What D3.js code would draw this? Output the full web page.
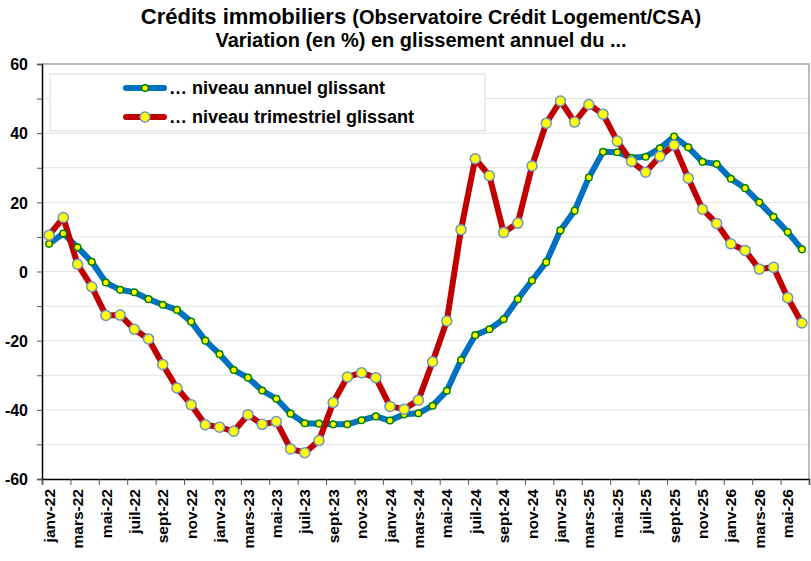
<!DOCTYPE html>
<html>
<head>
<meta charset="utf-8">
<script src="https://cdn.jsdelivr.net/npm/d3@7"></script>
<style>
  body { margin: 0; background: #fff; }
  svg { font-family: "Liberation Sans", Arial, sans-serif; }
</style>
</head>
<body>
<div id="chart"></div>
<script>
// mois (janv-22 .. juin-26)
var monthNames = ["janv", "févr", "mars", "avr", "mai", "juin", "juil", "août", "sept", "oct", "nov", "déc"];
var years = ["22", "23", "24", "25", "26"];
var months = [];
years.forEach(function(y) {
    monthNames.forEach(function(m) { months.push(m + "-" + y); });
});
months = months.slice(0, 54);

// glissement annuel du niveau annuel glissant
var annuel = [8.0, 11.0, 7.0, 2.8, -3.2, -5.3, -6.0, -8.0, -9.6, -11.1, -14.5, -20.0,
    -23.9, -28.5, -30.7, -34.4, -36.8, -41.1, -43.9, -44.0, -44.2, -44.2, -43.0, -41.9,
    -43.1, -41.3, -41.0, -38.8, -34.5, -25.6, -18.4, -16.7, -13.8, -8.0, -2.6, 2.7,
    11.9, 17.6, 27.2, 34.6, 34.5, 32.9, 33.2, 35.6, 39.0, 35.9, 31.7, 31.1,
    26.8, 24.1, 20.0, 15.8, 11.4, 6.4];

// glissement annuel du niveau trimestriel glissant
var trimestriel = [10.5, 15.6, 2.1, -4.4, -12.7, -12.6, -16.7, -19.5, -26.9, -33.7, -38.5, -44.3,
    -45.0, -46.2, -41.4, -44.2, -43.4, -51.3, -52.4, -48.9, -37.9, -30.5, -29.3, -30.7,
    -39.0, -39.8, -37.2, -26.1, -14.3, 12.1, 32.6, 27.7, 11.3, 14.0, 30.5, 42.9,
    49.3, 43.2, 48.3, 45.5, 37.7, 31.8, 28.7, 33.3, 36.6, 27.0, 18.0, 13.9,
    8.0, 6.1, 0.7, 1.2, -7.6, -14.9];

var yTicks = [-60, -40, -20, 0, 20, 40, 60];

var width = 811, height = 561;
var plot = { left: 42, right: 809, top: 64, bottom: 479 };

var svg = d3.select("#chart").append("svg")
    .attr("width", width)
    .attr("height", height);

var x = d3.scaleBand().domain(months).range([plot.left, plot.right]).padding(0);
var xIdx = d3.scaleLinear().domain([0, months.length]).range([plot.left, plot.right]);
var y = d3.scaleLinear().domain([-60, 60]).range([plot.bottom, plot.top]);

// titre
var title = svg.append("text")
    .attr("x", 421).attr("y", 24)
    .attr("text-anchor", "middle")
    .attr("font-weight", "bold");
title.append("tspan").attr("font-size", "22px").text("Crédits immobiliers ");
title.append("tspan").attr("font-size", "20px").text("(Observatoire Crédit Logement/CSA)");

svg.append("text")
    .attr("x", 421).attr("y", 47)
    .attr("text-anchor", "middle")
    .attr("font-weight", "bold")
    .attr("font-size", "20px")
    .text("Variation (en %) en glissement annuel du ...");

// grille
svg.append("g").selectAll("line")
    .data(d3.range(-50, 61, 10))
    .enter().append("line")
    .attr("x1", plot.left).attr("x2", plot.right)
    .attr("y1", d => y(d)).attr("y2", d => y(d))
    .attr("stroke", "#e3e3e3")
    .attr("stroke-width", 1);

// cadre
svg.append("path")
    .attr("d", `M${plot.left},${plot.top}H${plot.right}V${plot.bottom}`)
    .attr("fill", "none")
    .attr("stroke", "#a6a6a6")
    .attr("stroke-width", 1.5);

// axe Y
var yAxis = svg.append("g")
    .attr("transform", `translate(${plot.left},0)`)
    .call(d3.axisLeft(y).tickValues(d3.range(-60, 61, 10)).tickSize(5)
        .tickFormat(d => yTicks.indexOf(d) >= 0 ? d : ""));
yAxis.select(".domain").attr("stroke", "#000").attr("stroke-width", 1.5);
yAxis.selectAll(".tick line").attr("stroke", "#555");
yAxis.selectAll("text")
    .attr("font-size", "16px")
    .attr("font-weight", "bold")
    .attr("font-family", "Liberation Sans, Arial, sans-serif")
    .attr("fill", "#000")
    .attr("x", -14)
    .attr("dy", "0.36em");

// axe X : graduations
var xTickAxis = svg.append("g")
    .attr("transform", `translate(0,${plot.bottom})`)
    .call(d3.axisBottom(xIdx).tickValues(d3.range(0, months.length + 1, 2)).tickSize(6).tickFormat(""));
xTickAxis.select(".domain").attr("stroke", "#000").attr("stroke-width", 1.5);
xTickAxis.selectAll(".tick line").attr("stroke", "#555");

// axe X : libellés
var xLabelAxis = svg.append("g")
    .attr("transform", `translate(0,${plot.bottom})`)
    .call(d3.axisBottom(x).tickValues(months.filter((d, i) => i % 2 === 0)).tickSize(0));
xLabelAxis.select(".domain").remove();
xLabelAxis.selectAll("text")
    .attr("font-size", "15.5px")
    .attr("font-weight", "bold")
    .attr("font-family", "Liberation Sans, Arial, sans-serif")
    .attr("fill", "#000")
    .attr("text-anchor", "end")
    .attr("transform", "rotate(-90)")
    .attr("x", -10)
    .attr("y", 0)
    .attr("dy", "0.36em");

var cx = (d, i) => x(months[i]) + x.bandwidth() / 2;

var line = d3.line()
    .x((d, i) => cx(d, i))
    .y(d => y(d));

// série annuelle
svg.append("path")
    .datum(annuel)
    .attr("d", line)
    .attr("fill", "none")
    .attr("stroke", "#0070c0")
    .attr("stroke-width", 6)
    .attr("stroke-linejoin", "round");

// série trimestrielle
svg.append("path")
    .datum(trimestriel)
    .attr("d", line)
    .attr("fill", "none")
    .attr("stroke", "#c00000")
    .attr("stroke-width", 6)
    .attr("stroke-linejoin", "round");

svg.append("g").selectAll("circle")
    .data(annuel)
    .enter().append("circle")
    .attr("cx", cx)
    .attr("cy", d => y(d))
    .attr("r", 3.3)
    .attr("fill", "#ffff00")
    .attr("stroke", "#008000")
    .attr("stroke-width", 1.5);

svg.append("g").selectAll("circle")
    .data(trimestriel)
    .enter().append("circle")
    .attr("cx", cx)
    .attr("cy", d => y(d))
    .attr("r", 5)
    .attr("fill", "#ffff00")
    .attr("stroke", "#6d93c8")
    .attr("stroke-width", 1.5);

// légende
var legend = svg.append("g");
legend.append("rect")
    .attr("x", 50).attr("y", 74)
    .attr("width", 435).attr("height", 57)
    .attr("fill", "#fff")
    .attr("stroke", "#d9d9d9");

var legendItems = [
    { label: "… niveau annuel glissant", color: "#0070c0", r: 3.3, stroke: "#008000", y: 88 },
    { label: "… niveau trimestriel glissant", color: "#c00000", r: 5, stroke: "#6d93c8", y: 117 }
];

legendItems.forEach(function(d) {
    legend.append("line")
        .attr("x1", 126).attr("x2", 164)
        .attr("y1", d.y).attr("y2", d.y)
        .attr("stroke", d.color)
        .attr("stroke-width", 6)
        .attr("stroke-linecap", "round");
    legend.append("circle")
        .attr("cx", 145).attr("cy", d.y)
        .attr("r", d.r)
        .attr("fill", "#ffff00")
        .attr("stroke", d.stroke)
        .attr("stroke-width", 1.5);
    legend.append("text")
        .attr("x", 169).attr("y", d.y)
        .attr("dy", "0.36em")
        .attr("font-size", "18px")
        .attr("font-weight", "bold")
        .text(d.label);
});
</script>
</body>
</html>
